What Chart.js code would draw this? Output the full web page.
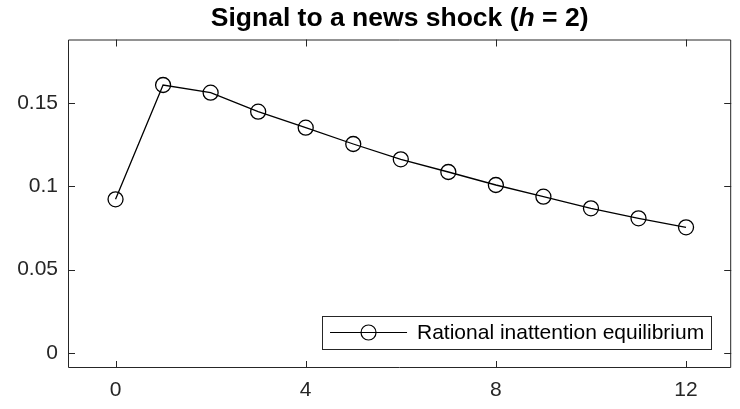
<!DOCTYPE html>
<html>
<head>
<meta charset="utf-8">
<script src="https://cdn.jsdelivr.net/npm/chart.js@4.4.1/dist/chart.umd.min.js"></script>
<style>
  html, body { margin: 0; padding: 0; background: #ffffff; }
  #wrap { width: 740px; height: 409px; position: relative; }
</style>
</head>
<body>
<div id="wrap"><canvas id="c" width="740" height="409"></canvas></div>
<script>
// ---- data ----
const periods = [0, 1, 2, 3, 4, 5, 6, 7, 8, 9, 10, 11, 12];
const signalValues = [0.0922, 0.1608, 0.1562, 0.1448, 0.1352, 0.1254, 0.1162, 0.1086, 0.1008, 0.0938, 0.0868, 0.0808, 0.0754];
const xTicks = [0, 4, 8, 12];
const yTicks = [0, 0.05, 0.1, 0.15];
const yTickLabels = ['0', '0.05', '0.1', '0.15'];
const seriesLabel = 'Rational inattention equilibrium';
const titleMain = 'Signal to a news shock (';
const titleItalic = 'h';
const titleEnd = ' = 2)';

const FONT = '"Liberation Sans", Arial, Helvetica, sans-serif';
const AXIS_COLOR = '#262626';

const points = periods.map((p, i) => ({ x: p, y: signalValues[i] }));

const framePlugin = {
  id: 'frame',
  afterDraw(chart) {
    const { ctx, chartArea: a, scales } = chart;
    ctx.save();
    ctx.strokeStyle = AXIS_COLOR;
    ctx.lineWidth = 1;
    // box
    ctx.beginPath();
    ctx.rect(a.left + 0.5, a.top + 0.5, a.right - a.left - 1, a.bottom - a.top - 1);
    ctx.stroke();
    const tl = 7;
    ctx.beginPath();
    xTicks.forEach(v => {
      const px = Math.round(scales.x.getPixelForValue(v)) + 0.5;
      ctx.moveTo(px, a.bottom); ctx.lineTo(px, a.bottom - tl);
      ctx.moveTo(px, a.top); ctx.lineTo(px, a.top + tl);
    });
    yTicks.forEach(v => {
      const py = Math.round(scales.y.getPixelForValue(v)) + 0.5;
      ctx.moveTo(a.left, py); ctx.lineTo(a.left + tl, py);
      ctx.moveTo(a.right, py); ctx.lineTo(a.right - tl, py);
    });
    ctx.stroke();

    // title
    const cx = (a.left + a.right) / 2;
    const ty = 19;
    const fBold = 'bold 26.5px ' + FONT;
    const fBoldIt = 'italic bold 26.5px ' + FONT;
    ctx.fillStyle = '#000000';
    ctx.textBaseline = 'middle';
    ctx.font = fBold;
    const w1 = ctx.measureText(titleMain).width;
    const w3 = ctx.measureText(titleEnd).width;
    ctx.font = fBoldIt;
    const w2 = ctx.measureText(titleItalic).width;
    let x0 = cx - (w1 + w2 + w3) / 2;
    ctx.textAlign = 'left';
    ctx.font = fBold; ctx.fillText(titleMain, x0, ty);
    ctx.font = fBoldIt; ctx.fillText(titleItalic, x0 + w1, ty);
    ctx.font = fBold; ctx.fillText(titleEnd, x0 + w1 + w2, ty);

    // legend
    ctx.font = '21px ' + FONT;
    const tw = ctx.measureText(seriesLabel).width;
    const boxRight = a.right - 20;
    const boxBottom = a.bottom - 19;
    const boxH = 33;
    const boxW = 95 + tw + 7;
    const boxLeft = boxRight - boxW;
    const boxTop = boxBottom - boxH;
    ctx.fillStyle = '#ffffff';
    ctx.fillRect(boxLeft, boxTop, boxW, boxH);
    ctx.strokeStyle = AXIS_COLOR;
    ctx.lineWidth = 1;
    ctx.strokeRect(Math.round(boxLeft) + 0.5, Math.round(boxTop) + 0.5, Math.round(boxW), boxH);
    const my = boxTop + boxH / 2;
    ctx.strokeStyle = '#000000';
    ctx.lineWidth = 1.2;
    ctx.beginPath();
    ctx.moveTo(boxLeft + 8, my); ctx.lineTo(boxLeft + 85, my);
    ctx.stroke();
    ctx.beginPath();
    ctx.arc(boxLeft + 46.5, my, 7.5, 0, Math.PI * 2);
    ctx.stroke();
    ctx.fillStyle = '#000000';
    ctx.textAlign = 'left';
    ctx.textBaseline = 'middle';
    ctx.fillText(seriesLabel, boxLeft + 95, my + 1);
    ctx.restore();
  }
};

new Chart(document.getElementById('c'), {
  type: 'line',
  data: {
    datasets: [{
      label: seriesLabel,
      data: points,
      borderColor: '#000000',
      borderWidth: 1.3,
      pointStyle: 'circle',
      pointRadius: 7.5,
      pointBorderWidth: 1.3,
      pointBorderColor: '#000000',
      pointBackgroundColor: 'rgba(0,0,0,0)',
      fill: false,
      tension: 0
    }]
  },
  options: {
    responsive: false,
    animation: false,
    devicePixelRatio: 1,
    layout: { padding: { top: 39.5, right: 1, left: 0, bottom: 0 } },
    plugins: {
      legend: { display: false },
      title: { display: false },
      tooltip: { enabled: false }
    },
    scales: {
      x: {
        type: 'linear',
        min: -1,
        max: 12.95,
        grid: { display: false, drawTicks: false },
        border: { display: false },
        afterBuildTicks: s => { s.ticks = xTicks.map(v => ({ value: v })); },
        afterFit: s => { s.height = 41; },
        ticks: {
          color: AXIS_COLOR,
          font: { family: FONT, size: 21 },
          padding: 10,
          maxRotation: 0,
          callback: v => String(v)
        }
      },
      y: {
        type: 'linear',
        min: -0.009,
        max: 0.1881,
        grid: { display: false, drawTicks: false },
        border: { display: false },
        afterBuildTicks: s => { s.ticks = yTicks.map(v => ({ value: v })); },
        afterFit: s => { s.width = 68; },
        ticks: {
          color: AXIS_COLOR,
          font: { family: FONT, size: 21 },
          padding: 10,
          callback: v => { const i = yTicks.indexOf(v); return i >= 0 ? yTickLabels[i] : ''; }
        }
      }
    }
  },
  plugins: [framePlugin]
});
</script>
</body>
</html>
